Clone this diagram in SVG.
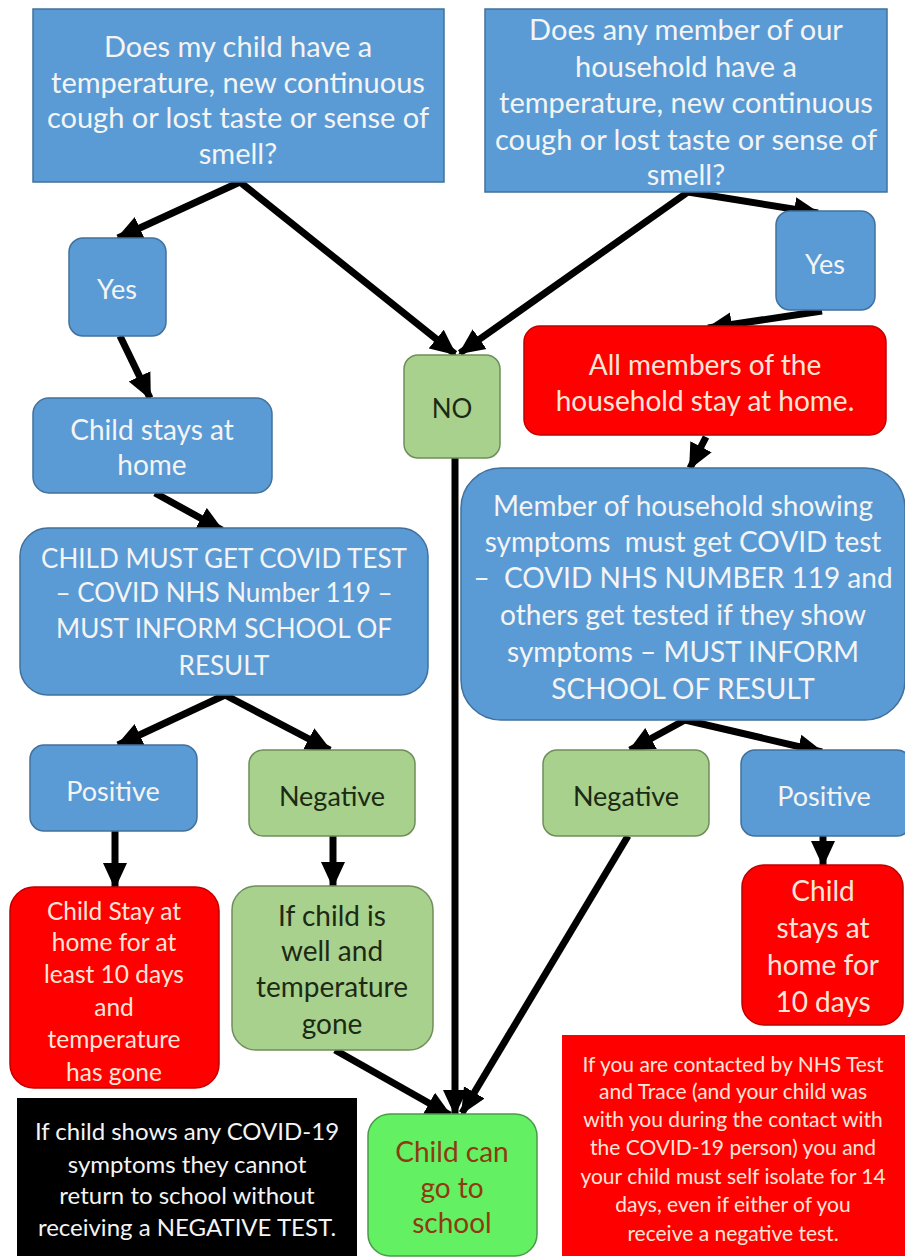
<svg xmlns="http://www.w3.org/2000/svg" width="905" height="1258" viewBox="0 0 905 1258">
<defs>
<style>
text{font-family:"Lato","Open Sans",sans-serif;text-anchor:middle;dominant-baseline:central}
.blue{fill:#5b9bd5;stroke:#41719c;stroke-width:1.5}
.green{fill:#a9d18e;stroke:#6f8f5a;stroke-width:1.5}
.bgreen{fill:#63f063;stroke:#4a9a4a;stroke-width:1.5}
.red{fill:#ff0000;stroke:#c00000;stroke-width:1.5}
.black{fill:#000}
.tw{fill:#f4f4f4}
.tg{fill:#1c2a14}
.tr{fill:#fde6d8}
.tb{fill:#8f3a10}
.conn line{stroke:#000;stroke-width:7;marker-end:url(#ah)}
</style>
<marker id="ah" markerUnits="userSpaceOnUse" markerWidth="26" markerHeight="26" viewBox="0 0 26 26" refX="24" refY="13" orient="auto">
<path d="M0,1 L26,13 L0,25 Z" fill="#000"/>
</marker>
</defs>
<rect width="905" height="1258" fill="#fff"/>

<g class="conn" id="connectors">
<line x1="240" y1="182" x2="118" y2="238"/>
<line x1="240" y1="182" x2="455" y2="354"/>
<line x1="688" y1="192" x2="460" y2="353"/>
<line x1="688" y1="192" x2="818" y2="213"/>
<line x1="120" y1="336" x2="150" y2="398"/>
<line x1="155" y1="493" x2="222" y2="530"/>
<line x1="455" y1="458" x2="455" y2="1114"/>
<line x1="822" y1="311" x2="708" y2="328"/>
<line x1="706" y1="437" x2="690" y2="468"/>
<line x1="225" y1="695" x2="118" y2="745"/>
<line x1="225" y1="695" x2="330" y2="750"/>
<line x1="115" y1="831" x2="115" y2="887"/>
<line x1="333" y1="836" x2="333" y2="886"/>
<line x1="335" y1="1050" x2="450" y2="1115"/>
<line x1="685" y1="720" x2="630" y2="750"/>
<line x1="685" y1="720" x2="822" y2="752"/>
<line x1="628" y1="836" x2="462" y2="1113"/>
<line x1="823" y1="836" x2="823" y2="865"/>
</g>

<g id="q-child">
<rect class="blue" x="33" y="9" width="411" height="173"/>
<text class="tw" font-size="29" x="238" y="45">Does my child have a</text>
<text class="tw" font-size="29" x="238" y="81">temperature, new continuous</text>
<text class="tw" font-size="29" x="238" y="116">cough or lost taste or sense of</text>
<text class="tw" font-size="29" x="238" y="152">smell?</text>
</g>

<g id="q-household">
<rect class="blue" x="485" y="9" width="402" height="183"/>
<text class="tw" font-size="29" x="686" y="28">Does any member of our</text>
<text class="tw" font-size="29" x="686" y="65">household have a</text>
<text class="tw" font-size="29" x="686" y="101">temperature, new continuous</text>
<text class="tw" font-size="29" x="686" y="138">cough or lost taste or sense of</text>
<text class="tw" font-size="29" x="686" y="173">smell?</text>
</g>

<g id="yes-left">
<rect class="blue" x="69" y="238" width="97" height="98" rx="14"/>
<text class="tw" font-size="27" x="117" y="288">Yes</text>
</g>

<g id="yes-right">
<rect class="blue" x="776" y="211" width="99" height="99" rx="14"/>
<text class="tw" font-size="27" x="825" y="263">Yes</text>
</g>

<g id="no">
<rect class="green" x="404" y="355" width="96" height="103" rx="14"/>
<text class="tg" font-size="26" x="452" y="408">NO</text>
</g>

<g id="child-stays-home">
<rect class="blue" x="33" y="398" width="239" height="95" rx="16"/>
<text class="tw" font-size="28" x="152" y="429">Child stays at</text>
<text class="tw" font-size="28" x="152" y="464">home</text>
</g>

<g id="all-members-home">
<rect class="red" x="524" y="326" width="362" height="109" rx="16"/>
<text class="tr" font-size="28" x="705" y="364">All members of the</text>
<text class="tr" font-size="28" x="705" y="400">household stay at home.</text>
</g>

<g id="child-test">
<rect class="blue" x="20" y="528" width="408" height="167" rx="28"/>
<text class="tw" font-size="26" x="224" y="558">CHILD MUST GET COVID TEST</text>
<text class="tw" font-size="26" x="224" y="592">– COVID NHS Number 119 –</text>
<text class="tw" font-size="26" x="224" y="628">MUST INFORM SCHOOL OF</text>
<text class="tw" font-size="26" x="224" y="665">RESULT</text>
</g>

<g id="member-test">
<rect class="blue" x="461" y="468" width="444" height="252" rx="40"/>
<text class="tw" font-size="28" x="683" y="505">Member of household showing</text>
<text class="tw" font-size="28" x="683" y="541" xml:space="preserve">symptoms  must get COVID test</text>
<text class="tw" font-size="28" x="683" y="577" xml:space="preserve">–  COVID NHS NUMBER 119 and</text>
<text class="tw" font-size="28" x="683" y="614">others get tested if they show</text>
<text class="tw" font-size="28" x="683" y="651">symptoms – MUST INFORM</text>
<text class="tw" font-size="28" x="683" y="688">SCHOOL OF RESULT</text>
</g>

<g id="positive-left">
<rect class="blue" x="30" y="745" width="167" height="86" rx="14"/>
<text class="tw" font-size="27" x="113" y="790">Positive</text>
</g>

<g id="negative-left">
<rect class="green" x="249" y="750" width="166" height="86" rx="14"/>
<text class="tg" font-size="27" x="332" y="795">Negative</text>
</g>

<g id="negative-right">
<rect class="green" x="543" y="750" width="166" height="86" rx="14"/>
<text class="tg" font-size="27" x="626" y="795">Negative</text>
</g>

<g id="positive-right">
<rect class="blue" x="741" y="750" width="170" height="86" rx="14"/>
<text class="tw" font-size="27" x="824" y="795">Positive</text>
</g>

<g id="child-stay-10">
<rect class="red" x="10" y="887" width="209" height="201" rx="24"/>
<text class="tr" font-size="24.5" x="114" y="910">Child Stay at</text>
<text class="tr" font-size="24.5" x="114" y="941">home for at</text>
<text class="tr" font-size="24.5" x="114" y="973">least 10 days</text>
<text class="tr" font-size="24.5" x="114" y="1006">and</text>
<text class="tr" font-size="24.5" x="114" y="1038">temperature</text>
<text class="tr" font-size="24.5" x="114" y="1071">has gone</text>
</g>

<g id="child-well">
<rect class="green" x="232" y="886" width="201" height="164" rx="24"/>
<text class="tg" font-size="28" x="332" y="915">If child is</text>
<text class="tg" font-size="28" x="332" y="950">well and</text>
<text class="tg" font-size="28" x="332" y="986">temperature</text>
<text class="tg" font-size="28" x="332" y="1023">gone</text>
</g>

<g id="child-stays-10-right">
<rect class="red" x="742" y="865" width="161" height="160" rx="22"/>
<text class="tr" font-size="28" x="823" y="890">Child</text>
<text class="tr" font-size="28" x="823" y="927">stays at</text>
<text class="tr" font-size="28" x="823" y="964">home for</text>
<text class="tr" font-size="28" x="823" y="1001">10 days</text>
</g>

<g id="note-black">
<rect class="black" x="17" y="1098" width="340" height="158"/>
<text class="tw" font-size="24" x="187" y="1130">If child shows any COVID-19</text>
<text class="tw" font-size="24" x="187" y="1163">symptoms they cannot</text>
<text class="tw" font-size="24" x="187" y="1194">return to school without</text>
<text class="tw" font-size="24" x="187" y="1226">receiving a NEGATIVE TEST.</text>
</g>

<g id="go-to-school">
<rect class="bgreen" x="368" y="1114" width="169" height="142" rx="22"/>
<text class="tb" font-size="28" x="452" y="1151">Child can</text>
<text class="tb" font-size="28" x="452" y="1187">go to</text>
<text class="tb" font-size="28" x="452" y="1222">school</text>
</g>

<g id="note-red">
<rect fill="#ff0000" x="562" y="1035" width="343" height="221"/>
<text class="tr" font-size="21" x="733" y="1063">If you are contacted by NHS Test</text>
<text class="tr" font-size="21" x="733" y="1090">and Trace (and your child was</text>
<text class="tr" font-size="21" x="733" y="1118">with you during the contact with</text>
<text class="tr" font-size="21" x="733" y="1146">the COVID-19 person) you and</text>
<text class="tr" font-size="21" x="733" y="1175">your child must self isolate for 14</text>
<text class="tr" font-size="21" x="733" y="1203">days, even if either of you</text>
<text class="tr" font-size="21" x="733" y="1232">receive a negative test.</text>
</g>
</svg>
